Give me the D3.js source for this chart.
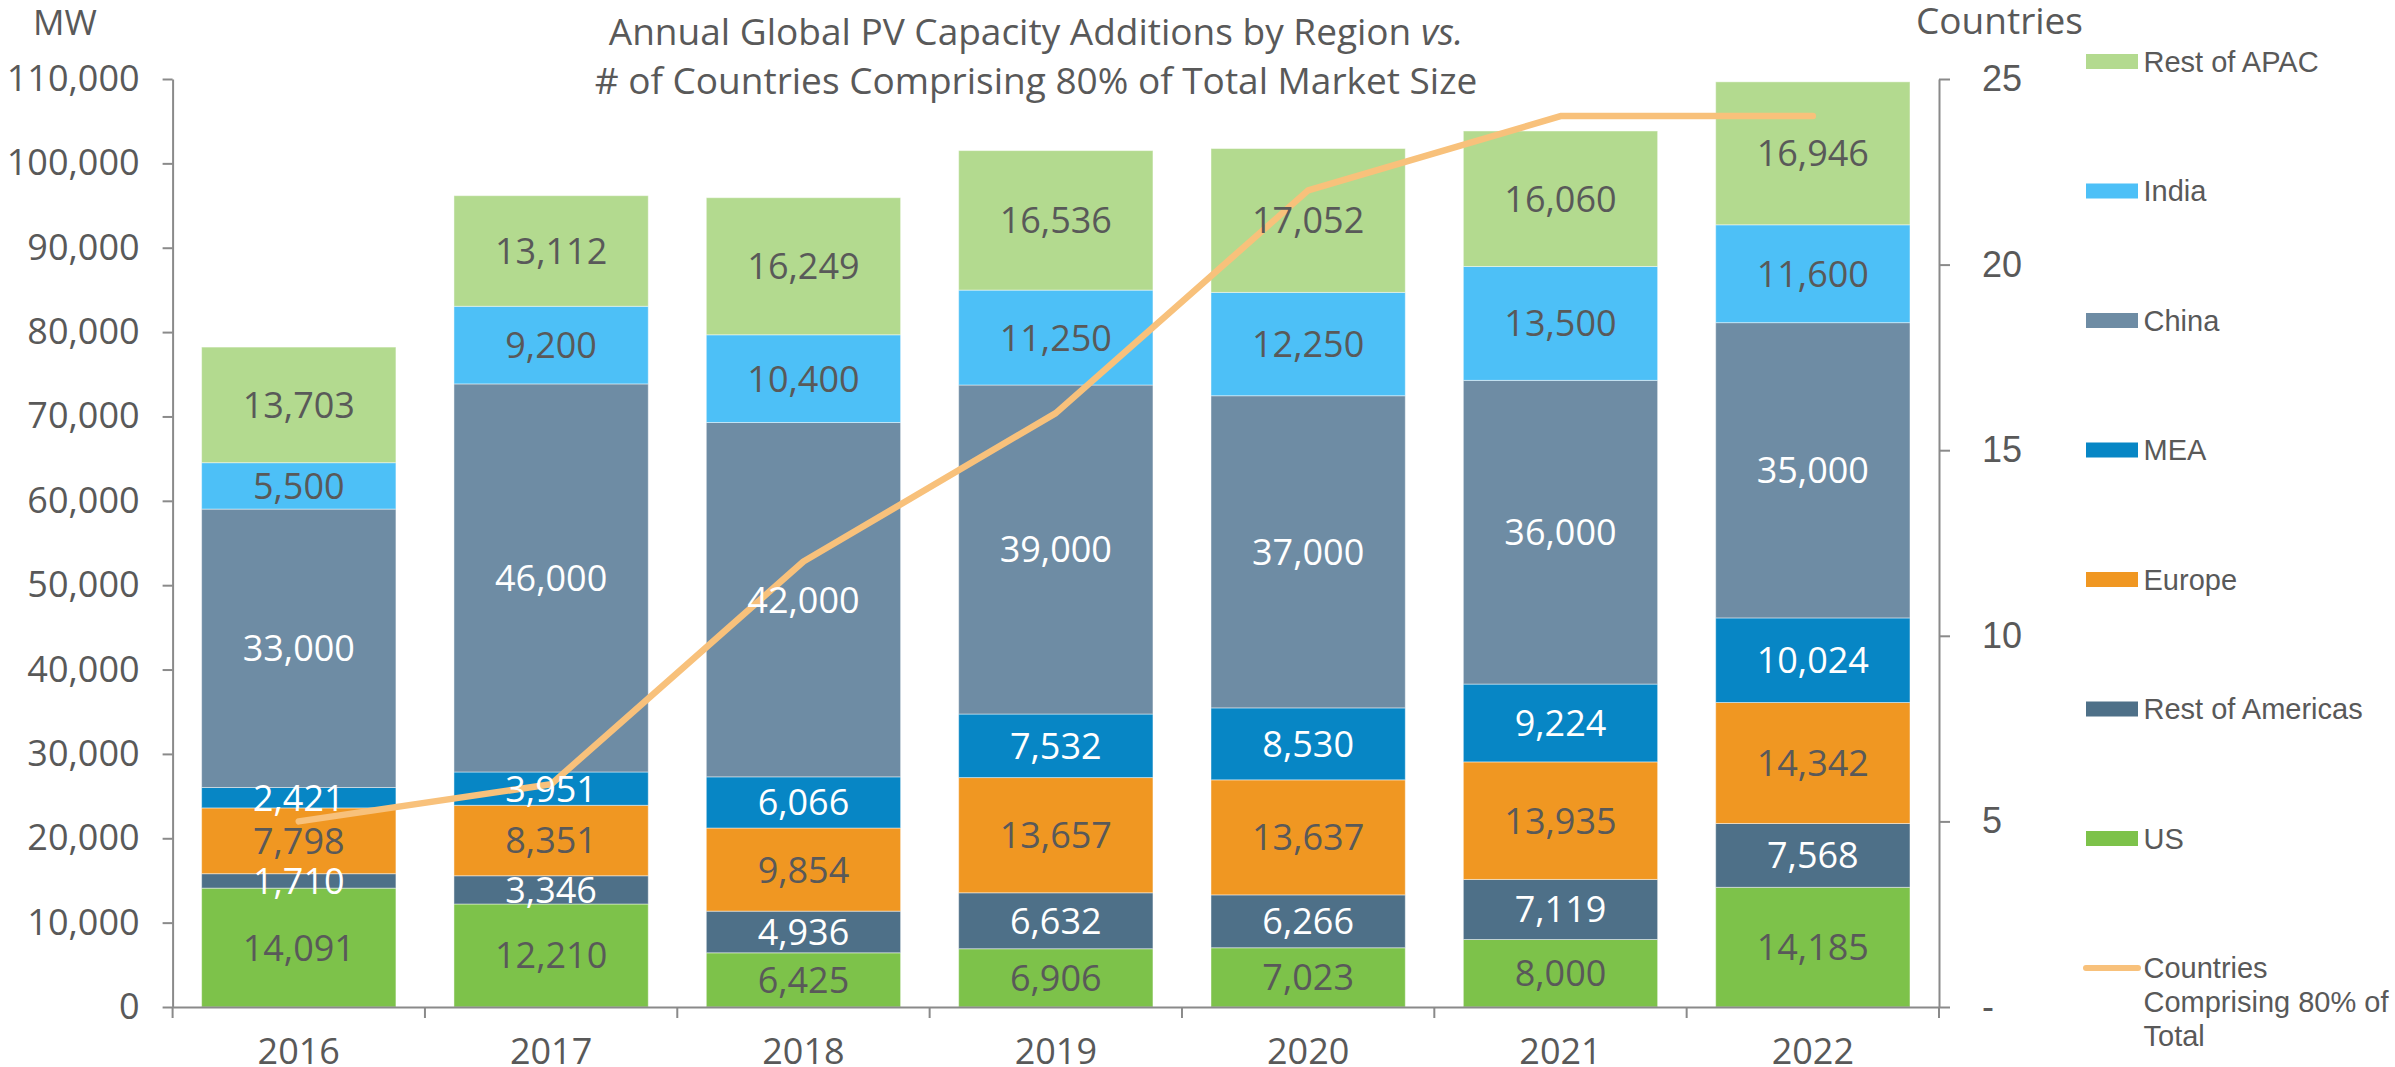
<!DOCTYPE html>
<html>
<head>
<meta charset="utf-8">
<script src="https://cdn.jsdelivr.net/npm/d3@7"></script>
<style>
  body { margin: 0; background: #fff; }
  svg text { fill: #595959; }
</style>
</head>
<body>
<div id="chart"></div>
<script>
// data
let years = ['2016', '2017', '2018', '2019', '2020', '2021', '2022']
let seriesNames = ['US', 'Rest of Americas', 'Europe', 'MEA', 'China', 'India', 'Rest of APAC']
let us = [14091, 12210, 6425, 6906, 7023, 8000, 14185]
let restOfAmericas = [1710, 3346, 4936, 6632, 6266, 7119, 7568]
let europe = [7798, 8351, 9854, 13657, 13637, 13935, 14342]
let mea = [2421, 3951, 6066, 7532, 8530, 9224, 10024]
let china = [33000, 46000, 42000, 39000, 37000, 36000, 35000]
let india = [5500, 9200, 10400, 11250, 12250, 13500, 11600]
let restOfApac = [13703, 13112, 16249, 16536, 17052, 16060, 16946]
let countries = [5, 6, 12, 16, 22, 24, 24]
let mwTicks = [0, 10000, 20000, 30000, 40000, 50000, 60000, 70000, 80000, 90000, 100000, 110000]
let countryTicks = [0, 5, 10, 15, 20, 25]
let lineLabel = ['Countries', 'Comprising 80% of', 'Total']

let seriesValues = [us, restOfAmericas, europe, mea, china, india, restOfApac]
let colors = ['#7DC24A', '#4E7088', '#F09722', '#0786C5', '#6E8CA4', '#4DC0F7', '#B3DA8F']
let labelColors = ['#595959', '#fff', '#595959', '#fff', '#fff', '#595959', '#595959']
let lineColor = '#F8C17B'
let axisColor = '#8A8A8A'
let openSans = "'Open Sans', sans-serif"
let arial = "'Liberation Sans', Arial, sans-serif"

let width = 2395, height = 1067
let plotLeft = 172.6, plotRight = 1939, plotTop = 79, plotBottom = 1007

let rows = years.map(function(yr, i){
  let r = { year: yr }
  seriesNames.forEach(function(s, j){ r[s] = seriesValues[j][i] })
  return r
})

let svg = d3.select('#chart').append('svg')
  .attr('width', width)
  .attr('height', height)

let x = d3.scaleBand()
  .domain(years)
  .range([plotLeft, plotRight])
  .paddingInner(0.23)
  .paddingOuter(0.115)
let y = d3.scaleLinear().domain([0, 110000]).range([plotBottom, plotTop])
let y2 = d3.scaleLinear().domain([0, 25]).range([plotBottom, plotTop])

let stacked = d3.stack().keys(seriesNames)(rows)

// bars
let layers = svg.append('g').selectAll('g.layer')
  .data(stacked)
  .enter().append('g')
  .attr('class', 'layer')
  .attr('fill', function(d, i){ return colors[i] })

layers.selectAll('rect')
  .data(function(d){ return d })
  .enter().append('rect')
  .attr('x', function(d){ return x(d.data.year) })
  .attr('width', x.bandwidth())
  .attr('y', function(d){ return y(d[1]) })
  .attr('height', function(d){ return y(d[0]) - y(d[1]) })
  .attr('stroke', 'rgba(255,255,255,0.45)')
  .attr('stroke-width', 1)

// left axis
let yAxis = svg.append('g')
  .attr('transform', 'translate(' + plotLeft + ',0)')
  .call(d3.axisLeft(y).tickValues(mwTicks).tickSize(10).tickSizeOuter(0).tickPadding(23).tickFormat(d3.format(',')))
yAxis.selectAll('path, line').attr('stroke', axisColor).attr('stroke-width', 2)
yAxis.selectAll('text')
  .style('font-family', openSans)
  .style('font-size', '36px')
  .style('fill', '#595959')

// right axis
let y2Axis = svg.append('g')
  .attr('transform', 'translate(' + plotRight + ',0)')
  .call(d3.axisRight(y2).tickValues(countryTicks).tickSize(11).tickSizeOuter(0).tickPadding(32)
    .tickFormat(function(d){ return d === 0 ? '-' : d }))
y2Axis.selectAll('path, line').attr('stroke', axisColor).attr('stroke-width', 2)
y2Axis.selectAll('text')
  .style('font-family', arial)
  .style('font-size', '36px')
  .style('fill', '#595959')

// bottom axis: labels at band centres, ticks on band boundaries
let xAxis = svg.append('g')
  .attr('transform', 'translate(0,' + plotBottom + ')')
  .call(d3.axisBottom(x).tickSize(0).tickSizeOuter(0).tickPadding(31))
xAxis.select('path').attr('stroke', axisColor).attr('stroke-width', 2)
xAxis.selectAll('text')
  .style('font-family', openSans)
  .style('font-size', '36px')
  .style('fill', '#595959')
xAxis.selectAll('line.bound')
  .data(d3.range(years.length + 1))
  .enter().append('line')
  .attr('class', 'bound')
  .attr('x1', function(i){ return plotLeft + i * x.step() })
  .attr('x2', function(i){ return plotLeft + i * x.step() })
  .attr('y1', 0)
  .attr('y2', 11)
  .attr('stroke', axisColor)
  .attr('stroke-width', 2)

// countries line
let line = d3.line()
  .x(function(d, i){ return x(years[i]) + x.bandwidth() / 2 })
  .y(function(d){ return y2(d) })
svg.append('path')
  .datum(countries)
  .attr('d', line)
  .attr('fill', 'none')
  .attr('stroke', lineColor)
  .attr('stroke-width', 6.5)
  .attr('stroke-linecap', 'round')
  .attr('stroke-linejoin', 'round')

// data labels
let labelLayers = svg.append('g').selectAll('g.labels')
  .data(stacked)
  .enter().append('g')
  .attr('class', 'labels')

labelLayers.selectAll('text')
  .data(function(d, i){ return d.map(function(p){ return { p: p, i: i } }) })
  .enter().append('text')
  .attr('x', function(d){ return x(d.p.data.year) + x.bandwidth() / 2 })
  .attr('y', function(d){ return (y(d.p[0]) + y(d.p[1])) / 2 })
  .attr('dy', '0.36em')
  .attr('text-anchor', 'middle')
  .style('font-family', openSans)
  .style('font-size', '36px')
  .style('fill', function(d){ return labelColors[d.i] })
  .text(function(d){ return d3.format(',')(d.p[1] - d.p[0]) })

// titles
let title = svg.append('text')
  .attr('text-anchor', 'middle')
  .style('font-family', openSans)
  .style('font-size', '37px')
title.append('tspan').attr('x', 1036).attr('y', 45).text('Annual Global PV Capacity Additions by Region ')
title.append('tspan').style('font-style', 'italic').text('vs.')
title.append('tspan').attr('x', 1036).attr('y', 94).text('# of Countries Comprising 80% of Total Market Size')

svg.append('text')
  .attr('x', 33)
  .attr('y', 35)
  .style('font-family', openSans)
  .style('font-size', '35px')
  .text('MW')

svg.append('text')
  .attr('x', 1916)
  .attr('y', 34)
  .style('font-family', openSans)
  .style('font-size', '37px')
  .text('Countries')

// legend, top entry first
let legendX = 2086, legendTop = 61.5, legendStep = 129.5
let legendItems = seriesNames.slice().reverse()
let legend = svg.append('g')
legendItems.forEach(function(name, k){
  let cy = legendTop + k * legendStep
  legend.append('rect')
    .attr('x', legendX)
    .attr('y', cy - 7.5)
    .attr('width', 52)
    .attr('height', 15)
    .attr('fill', colors[seriesNames.indexOf(name)])
  legend.append('text')
    .attr('x', legendX + 57.5)
    .attr('y', cy)
    .attr('dy', '0.36em')
    .style('font-family', arial)
    .style('font-size', '29px')
    .text(name)
})
let lineY = legendTop + legendItems.length * legendStep
legend.append('line')
  .attr('x1', legendX)
  .attr('x2', legendX + 52)
  .attr('y1', lineY)
  .attr('y2', lineY)
  .attr('stroke', lineColor)
  .attr('stroke-width', 6)
  .attr('stroke-linecap', 'round')
let lineText = legend.append('text')
  .style('font-family', arial)
  .style('font-size', '29px')
lineText.selectAll('tspan')
  .data(lineLabel)
  .enter().append('tspan')
  .attr('x', legendX + 57.5)
  .attr('y', function(d, i){ return lineY + i * 34 })
  .attr('dy', '0.36em')
  .text(function(d){ return d })
</script>
</body>
</html>
